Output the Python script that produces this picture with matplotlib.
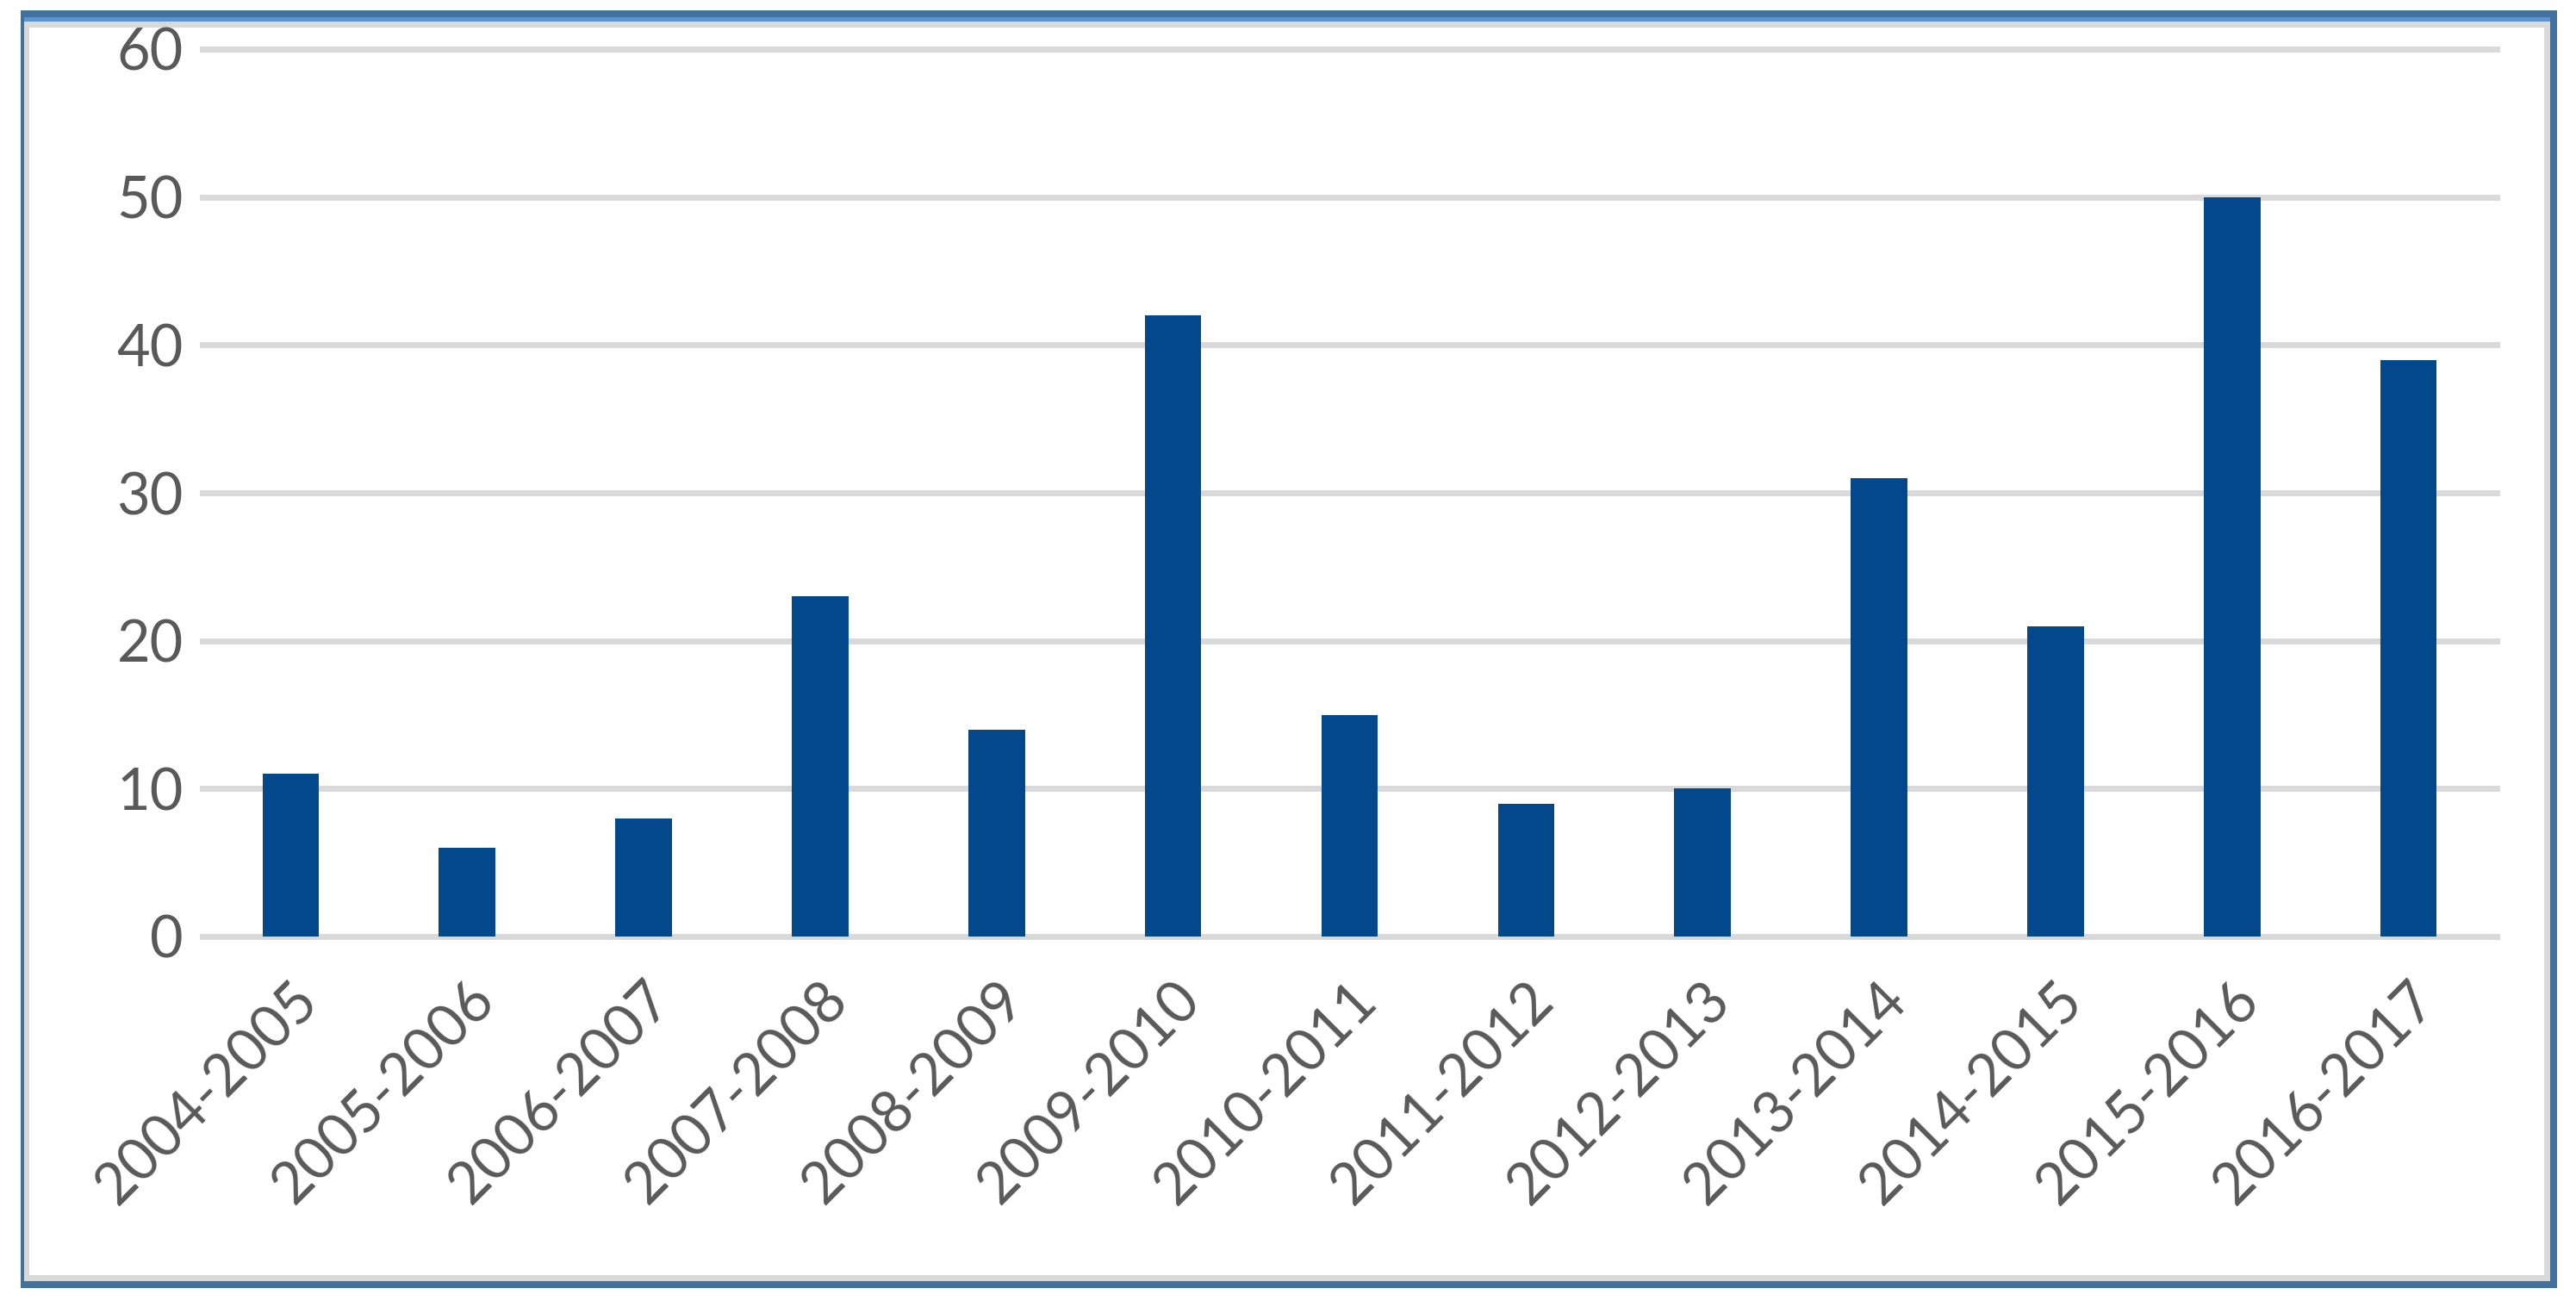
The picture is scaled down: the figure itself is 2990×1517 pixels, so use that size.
import matplotlib
matplotlib.use("Agg")
import matplotlib.pyplot as plt
from matplotlib.patches import Rectangle

# seasons and counts
seasons = ["2004-2005", "2005-2006", "2006-2007", "2007-2008", "2008-2009",
           "2009-2010", "2010-2011", "2011-2012", "2012-2013", "2013-2014",
           "2014-2015", "2015-2016", "2016-2017"]
counts = [11, 6, 8, 23, 14, 42, 15, 9, 10, 31, 21, 50, 39]
yticks = [0, 10, 20, 30, 40, 50, 60]

W, H = 2990, 1517
barColor = "#03488a"
gridColor = "#d9d9d9"
textColor = "#595959"

plt.rcParams["font.family"] = ["Lato", "DejaVu Sans"]

fig = plt.figure(figsize=(W / 100, H / 100), dpi=100)
fig.patch.set_facecolor("white")


def box(x0, y0, x1, y1, color):
    # pixel box given from the top-left corner
    fig.add_artist(Rectangle((x0 / W, 1 - y1 / H), (x1 - x0) / W, (y1 - y0) / H,
                             transform=fig.transFigure, facecolor=color,
                             edgecolor="none", zorder=0))


# frame round the chart
blue = "#44719b"
box(24, 12, 2968, 20, blue)
box(24, 12, 28, 1495, blue)
box(2960, 12, 2968, 1495, blue)
box(24, 1487, 2968, 1495, blue)
box(28, 20, 2960, 25, "#5b94cf")
box(28, 25, 2960, 32, gridColor)
box(28, 25, 34, 1487, gridColor)
box(2953, 25, 2960, 1487, gridColor)
box(28, 1480, 2960, 1487, gridColor)

ax = fig.add_axes([235 / W, 1 - 1087 / H, (2898 - 235) / W, (1087 - 57) / H])
x = range(len(seasons))
ax.bar(x, counts, width=0.32, color=barColor, zorder=3)

ax.set_xlim(-0.5, len(seasons) - 0.5)
ax.set_ylim(0, 60)
ax.set_yticks(yticks)
ax.set_yticklabels([str(v) for v in yticks])
ax.set_xticks(list(x))
ax.set_xticklabels(seasons, rotation=45, ha="right", va="top",
                   rotation_mode="anchor")

for v in yticks:
    ax.axhline(v, color=gridColor, linewidth=5, zorder=1, clip_on=False)

for s in ax.spines.values():
    s.set_visible(False)
ax.tick_params(axis="both", length=0, labelsize=48, colors=textColor)
ax.tick_params(axis="y", pad=16)
ax.tick_params(axis="x", pad=30)
ax.patch.set_alpha(0)

fig.savefig("out.png", dpi=100, facecolor="white")
